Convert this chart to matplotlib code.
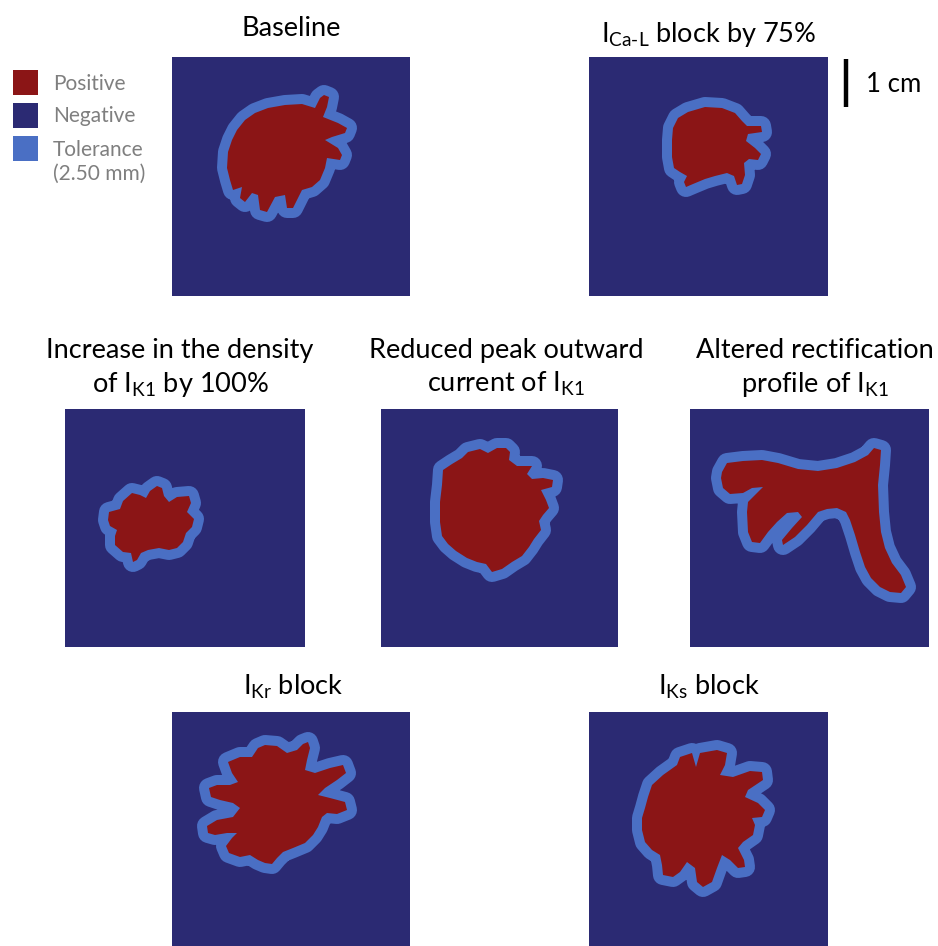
import matplotlib
matplotlib.use("Agg")
import matplotlib.pyplot as plt
from matplotlib.patches import Polygon, Rectangle

plt.rcParams['font.family'] = ['Lato', 'DejaVu Sans']
plt.rcParams['mathtext.fontset'] = 'custom'
plt.rcParams['mathtext.rm'] = 'Lato'
plt.rcParams['mathtext.it'] = 'Lato:italic'
plt.rcParams['mathtext.bf'] = 'Lato:bold'

NAVY = '#2b2a73'
RED = '#8b1516'
LIGHT = '#4a6fc4'

# tissue is 5 x 5 cm, outlines are in grid units, y goes down
TOL = 10  # 2.50 mm tolerance band, grid units

baseline = [(55, 111), (56, 95), (60, 83), (65, 73), (73, 63), (83, 56), (96, 51), (113, 48),
            (130, 47), (143, 51), (148, 41), (152, 38), (157, 40), (155, 50), (151, 60), (166, 66),
            (175, 71), (173, 76), (160, 80), (153, 83), (166, 91), (170, 98), (168, 103), (155, 101),
            (153, 111), (148, 123), (140, 130), (130, 133), (121, 151), (115, 151), (113, 138),
            (103, 140), (95, 155), (88, 153), (86, 138), (80, 136), (73, 145), (68, 141), (70, 130),
            (61, 133), (58, 123)]

ical_block = [(84, 71), (89, 61), (99, 55), (116, 50), (133, 51), (146, 56), (153, 64), (158, 69),
              (172, 69), (173, 75), (159, 77), (157, 84), (166, 91), (172, 97), (169, 103), (160, 102),
              (155, 106), (156, 118), (153, 127), (148, 128), (145, 119), (138, 116), (126, 119),
              (116, 122), (104, 127), (97, 130), (95, 125), (98, 119), (91, 115), (85, 111), (83, 100),
              (83, 83)]

ik1_density = [(43, 111), (44, 103), (55, 100), (58, 92), (67, 84), (75, 86), (81, 89), (85, 82),
               (92, 77), (97, 79), (99, 87), (104, 93), (112, 88), (124, 87), (126, 94), (122, 103),
               (129, 110), (127, 118), (121, 124), (118, 133), (112, 139), (104, 141), (94, 139),
               (83, 141), (76, 144), (72, 151), (68, 153), (66, 144), (58, 143), (50, 136), (50, 127),
               (52, 121), (45, 117)]

ik1_peak = [(61, 76), (62, 61), (71, 55), (81, 49), (87, 43), (99, 40), (107, 44), (116, 39),
            (125, 39), (129, 43), (128, 51), (136, 57), (151, 57), (146, 65), (151, 70), (162, 69),
            (172, 71), (171, 78), (160, 81), (165, 91), (168, 99), (162, 106), (158, 112), (160, 121),
            (153, 130), (148, 138), (141, 147), (131, 153), (121, 160), (111, 163), (105, 155),
            (96, 153), (86, 149), (75, 142), (67, 135), (61, 127), (59, 113), (59, 93)]

ik1_rect = [(32, 63), (37, 54), (53, 52), (72, 51), (88, 54), (108, 60), (128, 62), (147, 59),
            (165, 53), (178, 46), (184, 39), (191, 41), (190, 56), (188, 76), (189, 103), (191, 123),
            (195, 139), (202, 154), (211, 166), (216, 178), (211, 184), (200, 183), (190, 178),
            (181, 169), (175, 158), (170, 143), (165, 126), (160, 111), (156, 103), (147, 99),
            (137, 100), (128, 103), (117, 116), (105, 128), (93, 136), (92, 131), (102, 119),
            (112, 108), (108, 103), (97, 104), (87, 113), (78, 123), (70, 134), (62, 133), (58, 123),
            (57, 103), (58, 93), (65, 86), (73, 78), (62, 79), (53, 84), (40, 85), (33, 79), (31, 69)]

ikr_block = [(56, 50), (68, 45), (80, 45), (86, 36), (93, 33), (105, 34), (115, 41), (125, 38),
             (131, 32), (136, 30), (138, 36), (135, 48), (133, 58), (143, 61), (158, 56), (171, 53),
             (174, 61), (165, 68), (153, 76), (146, 83), (158, 86), (173, 90), (175, 98), (165, 102),
             (155, 101), (150, 105), (146, 115), (141, 123), (133, 131), (121, 136), (111, 140),
             (105, 146), (100, 152), (93, 151), (86, 148), (78, 143), (68, 145), (57, 141), (54, 134),
             (60, 126), (65, 121), (55, 121), (43, 123), (36, 121), (35, 114), (45, 108), (61, 105),
             (68, 96), (61, 91), (48, 88), (39, 85), (37, 76), (45, 73), (58, 73), (66, 70), (60, 61)]

iks_block = [(63, 73), (74, 63), (88, 53), (91, 45), (103, 41), (107, 55), (111, 41), (128, 38),
             (138, 41), (136, 53), (131, 63), (144, 65), (161, 59), (173, 60), (174, 68), (159, 78),
             (156, 85), (169, 91), (176, 98), (173, 105), (163, 106), (166, 113), (164, 123),
             (154, 130), (149, 136), (155, 148), (156, 155), (149, 156), (141, 148), (133, 143),
             (128, 156), (123, 170), (114, 175), (108, 170), (106, 156), (98, 150), (91, 160),
             (84, 165), (74, 163), (73, 153), (71, 143), (63, 138), (56, 130), (53, 118), (53, 106),
             (56, 96), (59, 85)]

outlines = [baseline, ical_block, ik1_density, ik1_peak, ik1_rect, ikr_block, iks_block]

titles = [
    ['Baseline'],
    [r'$\mathregular{I_{Ca\text{-}L}}$ block by 75%'],
    ['Increase in the density', r'of $\mathregular{I_{K1}}$ by 100%'],
    ['Reduced peak outward', r'current of $\mathregular{I_{K1}}$'],
    ['Altered rectification', r'profile of $\mathregular{I_{K1}}$'],
    [r'$\mathregular{I_{Kr}}$ block'],
    [r'$\mathregular{I_{Ks}}$ block'],
]

legend_labels = ['Positive', 'Negative', 'Tolerance\n(2.50 mm)']

W, H = 938, 946
fig = plt.figure(figsize=(W / 100, H / 100), dpi=100)

# panel boxes in pixels: left, top, width, height
boxes = [(172, 57, 238, 239), (589, 57, 239, 239),
         (65, 409, 240, 238), (381, 409, 237, 238), (690, 409, 239, 238),
         (172, 712, 238, 238), (589, 712, 239, 238)]
# title anchors: x centre, baseline of first line
title_pos = [(291, 36), (709, 42), (180, 358), (506, 358), (815, 358), (293, 695), (709, 695)]

for outline, (x0, y0, w, h) in zip(outlines, boxes):
    ax = fig.add_axes([x0 / W, 1 - (y0 + h) / H, w / W, h / H])
    ax.set_facecolor(NAVY)
    ax.set_xlim(0, w)
    ax.set_ylim(h, 0)
    ax.set_xticks([])
    ax.set_yticks([])
    for s in ax.spines.values():
        s.set_visible(False)
    # one grid unit is one pixel here, so the stroke is 2*TOL pixels wide
    lw = 2 * TOL * 72 / fig.dpi
    ax.add_patch(Polygon(outline, closed=True, facecolor=LIGHT, edgecolor=LIGHT,
                         linewidth=lw, joinstyle='round'))
    ax.add_patch(Polygon(outline, closed=True, facecolor=RED, edgecolor='none'))

# overlay for text, legend and scale bar
ov = fig.add_axes([0, 0, 1, 1])
ov.set_xlim(0, W)
ov.set_ylim(H, 0)
ov.axis('off')

for lines, (tx, ty) in zip(titles, title_pos):
    for i, line in enumerate(lines):
        ov.text(tx, ty + i * 34, line, ha='center', va='baseline', fontsize=19.5, color='black')

leg_colors = [RED, NAVY, LIGHT]
leg_y = [70, 103, 136]
for lab, col, ly in zip(legend_labels, leg_colors, leg_y):
    ov.add_patch(Rectangle((13, ly), 25, 25, facecolor=col, edgecolor='none'))
    ov.text(53, ly + 13.5, lab, ha='left', va='top' if '\n' in lab else 'center',
            fontsize=15, color='#7f7f7f', linespacing=1.25)
# the two-line label starts level with its swatch
ov.texts[-1].set_y(leg_y[2] + 4)

ov.plot([846, 846], [59, 107], color='black', linewidth=3.2, solid_capstyle='butt')
ov.text(866, 84, '1 cm', ha='left', va='center', fontsize=18.5, color='black')

fig.savefig('out.png', dpi=100, facecolor='white')
